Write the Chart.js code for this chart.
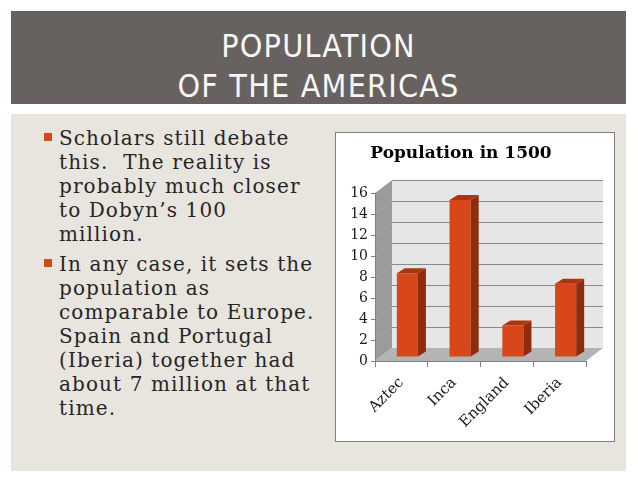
<!DOCTYPE html>
<html>
<head>
<meta charset="utf-8">
<script src="https://cdn.jsdelivr.net/npm/chart.js@4/dist/chart.umd.min.js"></script>
<style>
  body { margin: 0; width: 638px; height: 479px; background: #fff; position: relative; overflow: hidden; }
  #header { position: absolute; left: 11px; top: 11px; width: 615px; height: 93px; background: #67625f; }
  #header h1 {
    margin: 0; position: absolute; left: 0; right: 0; top: 15px;
    font: normal 32px/40px "Liberation Sans Narrow", "DejaVu Sans Condensed", sans-serif;
    letter-spacing: 1.2px; color: #f7f7f7; text-align: center;
  }
  #content { position: absolute; left: 11px; top: 114px; width: 615px; height: 357px; background: #e8e4de; }
  #bullets { position: absolute; left: 59px; top: 126px; margin: 0; padding: 0; list-style: none;
    font: 20px/24px "DejaVu Serif", serif; color: #262626; letter-spacing: 1.1px; white-space: nowrap; }
  #bullets li { position: relative; margin-bottom: 6px; }
  #bullets li::before { content: ""; position: absolute; left: -15px; top: 7px; width: 8px; height: 8px; background: #d24a1b; }
  #chartBox { position: absolute; left: 335px; top: 132px; width: 280px; height: 310px;
    box-sizing: border-box; border: 1px solid #7f7f7f; background: #fff; }
  #chartBox canvas { display: block; }
</style>
</head>
<body>
<div id="header"><h1>POPULATION<br>OF THE AMERICAS</h1></div>
<div id="content"></div>
<ul id="bullets">
  <li>Scholars still debate<br>this.&nbsp; The reality is<br>probably much closer<br>to Dobyn’s 100<br>million.</li>
  <li>In any case, it sets the<br>population as<br>comparable to Europe.<br>Spain and Portugal<br>(Iberia) together had<br>about 7 million at that<br>time.</li>
</ul>
<div id="chartBox"><canvas id="chart" width="278" height="308"></canvas></div>
<script>
// data (millions)
const categories = ["Aztec", "Inca", "England", "Iberia"];
const population = [8, 15, 3, 7];
const yTicks = [0, 2, 4, 6, 8, 10, 12, 14, 16];

// 3d look
const WALL_DX = 17, WALL_DY = -13;
const BAR_DX = 8, BAR_DY = -5;
const SHIFT_X = 6, SHIFT_Y = -4;

function poly(ctx, pts, fill) {
  ctx.beginPath();
  ctx.moveTo(pts[0][0], pts[0][1]);
  for (let i = 1; i < pts.length; i++) ctx.lineTo(pts[i][0], pts[i][1]);
  ctx.closePath();
  ctx.fillStyle = fill;
  ctx.fill();
}

const walls3d = {
  id: "walls3d",
  beforeDraw(chart) {
    const { ctx, chartArea: a, scales } = chart;
    const y = scales.y;
    const top = y.getPixelForValue(yTicks[yTicks.length - 1]);
    const bot = y.getPixelForValue(0);
    ctx.save();
    // back wall
    poly(ctx, [[a.left + WALL_DX, top + WALL_DY], [a.right + WALL_DX, top + WALL_DY],
      [a.right + WALL_DX, bot + WALL_DY], [a.left + WALL_DX, bot + WALL_DY]], "#e6e6e6");
    // left wall
    poly(ctx, [[a.left, top], [a.left + WALL_DX, top + WALL_DY],
      [a.left + WALL_DX, bot + WALL_DY], [a.left, bot]], "#9b9b9b");
    // floor
    poly(ctx, [[a.left, bot], [a.left + WALL_DX, bot + WALL_DY],
      [a.right + WALL_DX, bot + WALL_DY], [a.right, bot]], "#b4b4b4");
    // grid lines on back wall and left wall
    ctx.lineWidth = 1;
    yTicks.forEach((v) => {
      if (v === 0) return;
      const py = Math.round(y.getPixelForValue(v)) + 0.5;
      ctx.strokeStyle = "#8a8a8a";
      ctx.beginPath();
      ctx.moveTo(a.left + WALL_DX, py + WALL_DY);
      ctx.lineTo(a.right + WALL_DX, py + WALL_DY);
      ctx.stroke();
      ctx.strokeStyle = "#a8a8a8";
      ctx.beginPath();
      ctx.moveTo(a.left, py);
      ctx.lineTo(a.left + WALL_DX, py + WALL_DY);
      ctx.stroke();
    });
    ctx.restore();
  },
  beforeDatasetsDraw(chart) {
    chart.ctx.save();
    chart.ctx.translate(SHIFT_X, SHIFT_Y);
  },
  afterDatasetsDraw(chart) {
    const ctx = chart.ctx;
    chart.getDatasetMeta(0).data.forEach((el) => {
      const l = el.x - el.width / 2, r = el.x + el.width / 2;
      // side
      poly(ctx, [[r, el.y], [r + BAR_DX, el.y + BAR_DY], [r + BAR_DX, el.base + BAR_DY], [r, el.base]], "#8f2c0d");
      // top
      poly(ctx, [[l, el.y], [l + BAR_DX, el.y + BAR_DY], [r + BAR_DX, el.y + BAR_DY], [r, el.y]], "#a9360f");
    });
    ctx.restore();
  }
};

const serif = "'DejaVu Serif', serif";

new Chart(document.getElementById("chart"), {
  type: "bar",
  data: {
    labels: categories,
    datasets: [{
      data: population,
      backgroundColor: "#d8471a",
      borderWidth: 0,
      categoryPercentage: 1,
      barPercentage: 0.4
    }]
  },
  options: {
    responsive: false,
    animation: false,
    layout: { padding: { right: 28, left: 0, top: 0, bottom: 0 } },
    plugins: {
      legend: { display: false },
      tooltip: { enabled: false },
      title: {
        display: true,
        text: "Population in 1500",
        color: "#000",
        font: { family: serif, size: 17, weight: "bold" },
        padding: { top: 10, bottom: 30 }
      }
    },
    scales: {
      x: {
        grid: { offset: true, drawOnChartArea: false, color: "#808080", tickLength: 6 },
        border: { color: "#808080" },
        ticks: { color: "#1a1a1a", font: { family: serif, size: 15 }, maxRotation: 45, minRotation: 45, padding: 7 },
        afterFit: (s) => { s.height = 80; }
      },
      y: {
        min: 0, max: 16,
        grid: { drawOnChartArea: false, color: "#808080", tickLength: 4 },
        border: { color: "#808080" },
        ticks: { stepSize: 2, color: "#1a1a1a", font: { family: serif, size: 14 }, padding: 3 },
        afterFit: (s) => { s.width = 39; }
      }
    }
  },
  plugins: [walls3d]
});
</script>
</body>
</html>
